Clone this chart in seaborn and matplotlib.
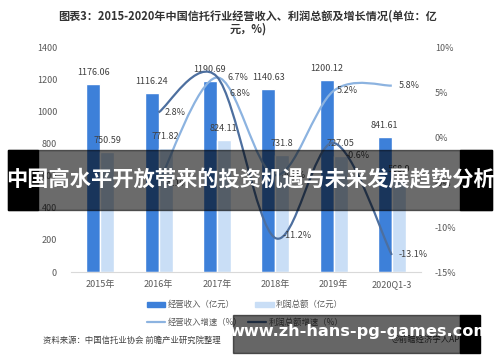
import matplotlib
matplotlib.use("Agg")
import matplotlib.pyplot as plt
from matplotlib.path import Path
from matplotlib.patches import PathPatch, Rectangle, Patch
from matplotlib.lines import Line2D
import seaborn as sns
import pandas as pd
import numpy as np

# data (2020 profit is hidden by the banner, estimated)
years = ["2015年", "2016年", "2017年", "2018年", "2019年", "2020Q1-3"]
revenue = [1176.06, 1116.24, 1190.69, 1140.63, 1200.12, 841.61]
profit = [750.59, 771.82, 824.11, 731.8, 727.05, 568.9]
growth_years = ["2016年", "2017年", "2018年", "2019年", "2020Q1-3"]
revenue_growth = [-5.1, 6.7, -4.2, 5.2, 5.8]
profit_growth = [2.8, 6.8, -11.2, -0.6, -13.1]
left_ticks = [0, 200, 400, 600, 800, 1000, 1200, 1400]
right_ticks = [-15, -10, -5, 0, 5, 10]

sns.set_style("white")
plt.rcParams["font.family"] = ["Noto Sans CJK SC", "DejaVu Sans"]

c_rev = "#3d80d9"
c_pro = "#c9def6"
c_rev_line = "#8cb3e0"
c_pro_line = "#4d6f9f"
grey = "#595959"

df = pd.DataFrame({
    "year": years * 2,
    "value": revenue + profit,
    "series": ["经营收入（亿元）"] * len(years) + ["利润总额（亿元）"] * len(years),
})

fig = plt.figure(figsize=(5, 3.62), dpi=100)
ax = fig.add_axes([0.142, 0.2486, 0.70, 0.619])
sns.barplot(data=df, x="year", y="value", hue="series", ax=ax, width=0.48,
            palette=[c_rev, c_pro], saturation=1, legend=False, gap=0)
ax.set_ylim(0, 1400)
ax.set_xlim(-0.5, 5.5)
ax.set_yticks(left_ticks)
ax.set_xlabel("")
ax.set_ylabel("")
ax.tick_params(axis="y", labelsize=6.5, colors=grey, length=0, pad=10)
ax.tick_params(axis="x", labelsize=6.5, colors=grey, length=0, pad=6)
for s in ["top", "right", "left"]:
    ax.spines[s].set_visible(False)
ax.spines["bottom"].set_color("#d9d9d9")

for i, v in enumerate(revenue):
    ax.text(i - 0.12, v + 45, f"{v:g}", ha="center", va="bottom", fontsize=6.5, color="#404040")
for i, v in enumerate(profit):
    ax.text(i + 0.12, v + 45, f"{v:g}", ha="center", va="bottom", fontsize=6.5, color="#404040")

ax2 = ax.twinx()
ax2.set_ylim(-15, 10)
ax2.set_yticks(right_ticks)
ax2.set_yticklabels([f"{t}%" for t in right_ticks])
ax2.tick_params(axis="y", labelsize=6.5, colors=grey, length=0, pad=10)
for s in ax2.spines.values():
    s.set_visible(False)


def smooth_path(xs, ys):
    # excel-like smoothed line drawn as bezier segments through the points
    pts = np.column_stack([xs, ys]).astype(float)
    n = len(pts)
    verts = [pts[0]]
    codes = [Path.MOVETO]
    for i in range(n - 1):
        p0 = pts[max(i - 1, 0)]
        p1 = pts[i]
        p2 = pts[i + 1]
        p3 = pts[min(i + 2, n - 1)]
        verts += [p1 + (p2 - p0) / 6, p2 - (p3 - p1) / 6, p2]
        codes += [Path.CURVE4] * 3
    return Path(verts, codes)


gx = [years.index(y) for y in growth_years]
ax2.add_patch(PathPatch(smooth_path(gx, revenue_growth), fill=False, lw=1.6, ec=c_rev_line, zorder=3))
ax2.add_patch(PathPatch(smooth_path(gx, profit_growth), fill=False, lw=1.6, ec=c_pro_line, zorder=3))

rev_off = [(18, 0), (21, 0), (18, 0), (14, 0), (17, 0)]
pro_off = [(17, 0), (23, -17), (22, 2), (24, -13), (21, 0)]
for x, v, o in zip(gx, revenue_growth, rev_off):
    ax2.annotate(f"{v}%", (x, v), xytext=o, textcoords="offset pixels",
                 ha="center", va="center", fontsize=6.5, color="#404040")
for x, v, o in zip(gx, profit_growth, pro_off):
    ax2.annotate(f"{v}%", (x, v), xytext=o, textcoords="offset pixels",
                 ha="center", va="center", fontsize=6.5, color="#404040")

# title
fig.text(0.496, 0.955, "图表3：2015-2020年中国信托行业经营收入、利润总额及增长情况(单位：亿",
         ha="center", va="center", fontsize=8, fontweight="bold", color="#333333")
fig.text(0.496, 0.92, "元，%)", ha="center", va="center", fontsize=8,
         fontweight="bold", color="#333333")

# legend
h1 = [Patch(color=c_rev, label="经营收入（亿元）"), Patch(color=c_pro, label="利润总额（亿元）")]
h2 = [Line2D([], [], color=c_rev_line, lw=1.6, label="经营收入增速（%）"),
      Line2D([], [], color=c_pro_line, lw=1.6, label="利润总额增速（%）")]
fig.legend(handles=h1, loc="center", bbox_to_anchor=(0.49, 0.158), ncol=2, frameon=False,
           fontsize=6, labelcolor=grey, handlelength=2.2, handleheight=0.5,
           handletextpad=0.3, columnspacing=2.5)
fig.legend(handles=h2, loc="center", bbox_to_anchor=(0.49, 0.11), ncol=2, frameon=False,
           fontsize=6, labelcolor=grey, handlelength=2.2, handletextpad=0.3, columnspacing=0.6)

fig.text(0.086, 0.061, "资料来源：中国信托业协会 前瞻产业研究院整理", ha="left", va="center",
         fontsize=6, color="#404040")
fig.text(0.93, 0.061, "@前瞻经济学人APP", ha="right", va="center", fontsize=6, color="#404040")

# overlay banner
fig.patches.append(Rectangle((0.016, 0.42), 0.968, 0.166, transform=fig.transFigure,
                             color="black", alpha=0.58, zorder=10))
fig.patches.append(Rectangle((0.016, 0.42), 0.06, 0.166, transform=fig.transFigure,
                             color="black", zorder=10))
fig.patches.append(Rectangle((0.92, 0.42), 0.064, 0.166, transform=fig.transFigure,
                             color="black", zorder=10))
fig.text(0.5, 0.503, "中国高水平开放带来的投资机遇与未来发展趋势分析", ha="center", va="center",
         fontsize=15.3, fontweight="bold", color="white", zorder=11)

fig.patches.append(Rectangle((0.466, 0.025), 0.454, 0.105, transform=fig.transFigure,
                             color="black", alpha=0.6, zorder=10))
fig.patches.append(Rectangle((0.92, 0.025), 0.04, 0.105, transform=fig.transFigure,
                             color="black", zorder=10))
fig.text(0.72, 0.083, "www.zh-hans-pg-games.com", ha="center", va="center",
         fontsize=11.6, fontweight="bold", color="white", family="DejaVu Sans", zorder=11)

fig.savefig("out.png", dpi=100)
